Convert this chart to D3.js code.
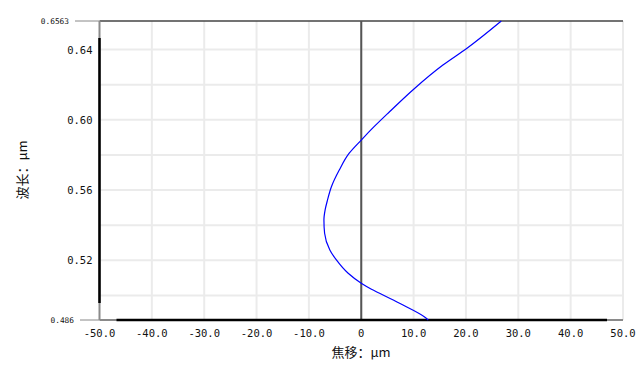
<!DOCTYPE html>
<html>
<head>
<meta charset="utf-8">
<script src="https://cdn.jsdelivr.net/npm/d3@7"></script>
<style>
  body { margin: 0; background: #fff; }
  svg text { font-family: "DejaVu Sans Mono", monospace; fill: #111; }
</style>
</head>
<body>
<svg id="chart" width="642" height="372"></svg>
<script>
// wavelength (µm) vs focal shift (µm)
const wavelength = [0.486, 0.4873, 0.4955, 0.5012, 0.5035, 0.5069, 0.5126, 0.5202, 0.5259,
  0.5354, 0.5430, 0.5487, 0.5543, 0.5619, 0.5714, 0.5810, 0.5885, 0.5961, 0.6046,
  0.6176, 0.6312, 0.6408, 0.6563]
const focalShift = [12.8, 12.3, 7.32, 3.5, 1.95, 0, -2.5, -4.75, -6.0,
  -7.0, -7.13, -6.9, -6.45, -5.7, -4.2, -2.3, 0, 2.45, 5.4,
  10.07, 15.6, 20.2, 26.75]

const xTicks = [-50, -40, -30, -20, -10, 0, 10, 20, 30, 40, 50]
const yTicks = [0.52, 0.56, 0.60, 0.64]
const yGrid = [0.50, 0.52, 0.54, 0.56, 0.58, 0.60, 0.62, 0.64]
const yEnds = [0.486, 0.6563]

const svg = d3.select('#chart')
const plotLeft = 99.5, plotRight = 623, plotTop = 21, plotBottom = 320

const x = d3.scaleLinear().domain([-50, 50]).range([plotLeft, plotRight])
const y = d3.scaleLinear().domain([0.486, 0.6563]).range([plotBottom, plotTop])

// NOTE: grid
svg.append('g').selectAll('line').data(xTicks.slice(1)).join('line')
  .attr('x1', d => x(d)).attr('x2', d => x(d))
  .attr('y1', plotTop).attr('y2', plotBottom)
  .attr('stroke', '#ebebeb').attr('stroke-width', 2)

svg.append('g').selectAll('line').data(yGrid).join('line')
  .attr('x1', plotLeft).attr('x2', plotRight)
  .attr('y1', d => y(d)).attr('y2', d => y(d))
  .attr('stroke', '#ebebeb').attr('stroke-width', 2)

// NOTE: top border
svg.append('line')
  .attr('x1', plotLeft).attr('x2', plotRight).attr('y1', plotTop).attr('y2', plotTop)
  .attr('stroke', '#444').attr('stroke-width', 1.5)

// NOTE: zero line
svg.append('line')
  .attr('x1', x(0)).attr('x2', x(0)).attr('y1', plotTop).attr('y2', plotBottom)
  .attr('stroke', '#555').attr('stroke-width', 2)

// NOTE: end ticks (gray)
svg.append('line').attr('x1', 75).attr('x2', plotLeft).attr('y1', y(yEnds[1])).attr('y2', y(yEnds[1]))
  .attr('stroke', '#888').attr('stroke-width', 1)
svg.append('line').attr('x1', 80).attr('x2', plotLeft).attr('y1', y(yEnds[0])).attr('y2', y(yEnds[0]))
  .attr('stroke', '#888').attr('stroke-width', 1)

// NOTE: left axis, gray at the ends
svg.append('line').attr('x1', plotLeft).attr('x2', plotLeft).attr('y1', plotTop).attr('y2', plotBottom)
  .attr('stroke', '#8a8a8a').attr('stroke-width', 2)
svg.append('line').attr('x1', plotLeft).attr('x2', plotLeft).attr('y1', plotTop + 17).attr('y2', plotBottom - 17)
  .attr('stroke', '#000').attr('stroke-width', 2.5)

// NOTE: bottom axis, gray at the ends
svg.append('line').attr('x1', plotLeft).attr('x2', plotRight).attr('y1', plotBottom).attr('y2', plotBottom)
  .attr('stroke', '#8a8a8a').attr('stroke-width', 2)
svg.append('line').attr('x1', plotLeft + 17).attr('x2', plotRight - 16).attr('y1', plotBottom).attr('y2', plotBottom)
  .attr('stroke', '#000').attr('stroke-width', 2.5)

// NOTE: curve, smooth as a function of wavelength
const points = wavelength.map((w, i) => [focalShift[i], w])
svg.append('path')
  .datum(points)
  .attr('fill', 'none')
  .attr('stroke', '#0000ff')
  .attr('stroke-width', 1.2)
  .attr('d', d3.line().x(d => x(d[0])).y(d => y(d[1])).curve(d3.curveMonotoneY))

// NOTE: tick labels
svg.append('g').selectAll('text').data(xTicks).join('text')
  .attr('x', d => x(d)).attr('y', 337)
  .attr('text-anchor', 'middle')
  .attr('font-size', 10.5)
  .text(d => d === 0 ? '0' : d.toFixed(1))

svg.append('g').selectAll('text').data(yTicks).join('text')
  .attr('x', 92.5).attr('y', d => y(d) + 4)
  .attr('text-anchor', 'end')
  .attr('font-size', 10.5)
  .text(d => d.toFixed(2))

svg.append('g').selectAll('text').data(yEnds).join('text')
  .attr('x', d => d === 0.486 ? 74 : 69).attr('y', d => y(d) + 3)
  .attr('text-anchor', 'end')
  .attr('font-size', 7.8)
  .text(d => d)

// NOTE: axis titles
svg.append('text')
  .attr('x', 361).attr('y', 357)
  .attr('text-anchor', 'middle')
  .attr('font-size', 13)
  .style('font-family', '"Noto Sans CJK SC", sans-serif')
  .text('焦移：μm')

svg.append('text')
  .attr('transform', 'translate(27,170) rotate(-90)')
  .attr('text-anchor', 'middle')
  .attr('font-size', 13)
  .style('font-family', '"Noto Sans CJK SC", sans-serif')
  .text('波长：μm')
</script>
</body>
</html>
